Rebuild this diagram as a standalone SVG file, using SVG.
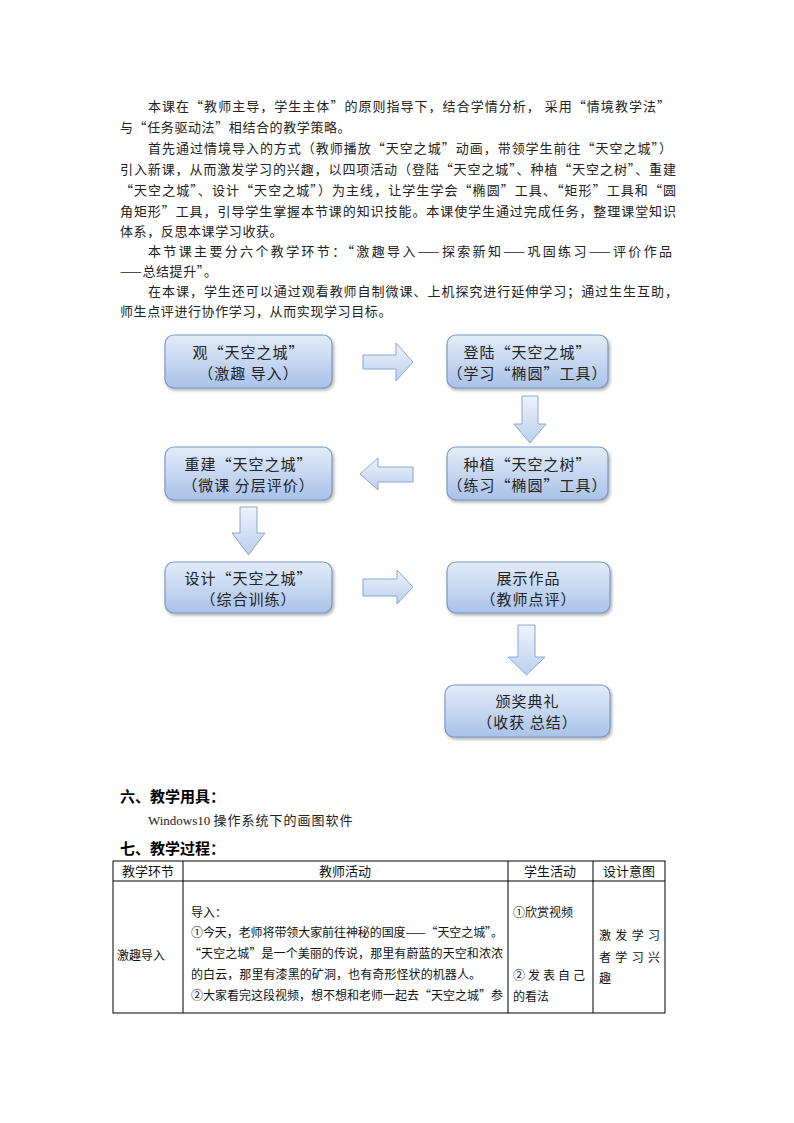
<svg xmlns="http://www.w3.org/2000/svg" width="794" height="1123" viewBox="0 0 794 1123">
<defs>
<linearGradient id="boxg" x1="0" y1="0" x2="0" y2="1">
<stop offset="0" stop-color="#e3ecf8"/>
<stop offset="1" stop-color="#a9c2e9"/>
</linearGradient>
<linearGradient id="arrg" x1="0" y1="0" x2="0" y2="1">
<stop offset="0" stop-color="#eef3fb"/>
<stop offset="1" stop-color="#bccfee"/>
</linearGradient>
<filter id="sh" x="-10%" y="-10%" width="130%" height="140%">
<feDropShadow dx="1.5" dy="2" stdDeviation="1.5" flood-color="#555" flood-opacity="0.45"/>
</filter>
<style>
.p{font-family:"Noto Sans CJK SC","Noto Sans",sans-serif;font-size:13px;fill:#222;}
.box{fill:url(#boxg);stroke:#7d98c4;stroke-width:1.2;filter:url(#sh);}
.bt{font-family:"Noto Sans CJK SC",sans-serif;font-size:15px;fill:#222;text-anchor:middle;letter-spacing:1px;}
.arr{fill:url(#arrg);stroke:#8ba6cf;stroke-width:1;}
.h{font-family:"Noto Sans CJK SC",sans-serif;font-size:15px;font-weight:bold;fill:#000;}
.t{font-family:"Noto Sans CJK SC",sans-serif;font-size:12px;fill:#111;}
.th{font-family:"Noto Sans CJK SC",sans-serif;font-size:13px;fill:#111;text-anchor:middle;}
.grid{stroke:#000;stroke-width:1;fill:none;}
</style>
</defs>
<rect width="794" height="1123" fill="#fff"/>

<g id="paragraphs">
<text class="p" x="148" y="111" textLength="522" lengthAdjust="spacing">本课在“教师主导，学生主体”的原则指导下，结合学情分析， 采用“情境教学法”</text>
<text class="p" x="120" y="132" letter-spacing="0.6">与“任务驱动法”相结合的教学策略。</text>
<text class="p" x="148" y="153" textLength="524" lengthAdjust="spacing">首先通过情境导入的方式（教师播放“天空之城”动画，带领学生前往“天空之城”）</text>
<text class="p" x="120" y="174" textLength="556" lengthAdjust="spacing">引入新课，从而激发学习的兴趣，以四项活动（登陆“天空之城”、种植“天空之树”、重建</text>
<text class="p" x="120" y="195" textLength="556" lengthAdjust="spacing">“天空之城”、设计“天空之城”）为主线，让学生学会“椭圆”工具、“矩形”工具和“圆</text>
<text class="p" x="120" y="216" textLength="556" lengthAdjust="spacing">角矩形”工具，引导学生掌握本节课的知识技能。本课使学生通过完成任务，整理课堂知识</text>
<text class="p" x="120" y="236" letter-spacing="0.6">体系，反思本课学习收获。</text>
<text class="p" x="148" y="256" textLength="524" lengthAdjust="spacing">本节课主要分六个教学环节：“激趣导入——探索新知——巩固练习——评价作品</text>
<text class="p" x="120" y="276" letter-spacing="0.6">——总结提升”。</text>
<text class="p" x="148" y="296" textLength="530" lengthAdjust="spacing">在本课，学生还可以通过观看教师自制微课、上机探究进行延伸学习；通过生生互助，</text>
<text class="p" x="120" y="316" letter-spacing="0.6">师生点评进行协作学习，从而实现学习目标。</text>
</g>

<g id="connectors">
<path class="arr" d="M363,355 H396 V343 L413,362 L396,381 V369 H363 Z"/>
<path class="arr" d="M522,396 H538 V424 H546 L530,443 L514,424 H522 Z"/>
<path class="arr" d="M413,467 H378 V458 L360,474 L378,490 V482 H413 Z"/>
<path class="arr" d="M240,507 H257 V533 H265 L248.5,555 L232,533 H240 Z"/>
<path class="arr" d="M363,579 H397 V570 L413,587 L397,604 V596 H363 Z"/>
<path class="arr" d="M518,625 H535 V657 H545 L526.5,675 L508,657 H518 Z"/>
</g>

<g id="node1">
<rect class="box" x="165" y="335" width="167" height="53" rx="9"/>
<text class="bt" x="248.5" y="358">观“天空之城”</text>
<text class="bt" x="248.5" y="379">（激趣 导入）</text>
</g>
<g id="node2">
<rect class="box" x="447" y="335" width="161" height="53" rx="9"/>
<text class="bt" x="527.5" y="358">登陆“天空之城”</text>
<text class="bt" x="527.5" y="379">（学习“椭圆”工具）</text>
</g>
<g id="node3">
<rect class="box" x="447" y="447" width="161" height="53" rx="9"/>
<text class="bt" x="527.5" y="470">种植“天空之树”</text>
<text class="bt" x="527.5" y="491">（练习“椭圆”工具）</text>
</g>
<g id="node4">
<rect class="box" x="165" y="447" width="167" height="53" rx="9"/>
<text class="bt" x="248.5" y="470">重建“天空之城”</text>
<text class="bt" x="248.5" y="491">（微课 分层评价）</text>
</g>
<g id="node5">
<rect class="box" x="165" y="562" width="167" height="51" rx="9"/>
<text class="bt" x="248.5" y="584">设计“天空之城”</text>
<text class="bt" x="248.5" y="605">（综合训练）</text>
</g>
<g id="node6">
<rect class="box" x="447" y="562" width="163" height="51" rx="9"/>
<text class="bt" x="528.5" y="584">展示作品</text>
<text class="bt" x="528.5" y="605">（教师点评）</text>
</g>
<g id="node7">
<rect class="box" x="445" y="685" width="165" height="52" rx="9"/>
<text class="bt" x="527.5" y="707">颁奖典礼</text>
<text class="bt" x="527.5" y="728">（收获 总结）</text>
</g>

<g id="sections">
<text class="h" x="120" y="802">六、教学用具：</text>
<text x="148" y="825" font-size="13" fill="#222"><tspan font-family="'Liberation Serif',serif">Windows10 </tspan><tspan font-family="'Noto Sans CJK SC',sans-serif" letter-spacing="1">操作系统下的画图软件</tspan></text>
<text class="h" x="120" y="854">七、教学过程：</text>
</g>

<g id="table">
<rect class="grid" x="113" y="861" width="552" height="152"/>
<line class="grid" x1="113" y1="881" x2="665" y2="881"/>
<line class="grid" x1="183" y1="861" x2="183" y2="1013"/>
<line class="grid" x1="508" y1="861" x2="508" y2="1013"/>
<line class="grid" x1="593" y1="861" x2="593" y2="1013"/>
<text class="th" x="148" y="876">教学环节</text>
<text class="th" x="345" y="876">教师活动</text>
<text class="th" x="550" y="876">学生活动</text>
<text class="th" x="629" y="876">设计意图</text>
<text class="t" x="117" y="960" font-size="13">激趣导入</text>
<text class="t" x="191" y="917">导入：</text>
<text class="t" x="191" y="937" textLength="312" lengthAdjust="spacing">①今天，老师将带领大家前往神秘的国度——“天空之城”。</text>
<text class="t" x="189" y="958" textLength="314" lengthAdjust="spacing">“天空之城”是一个美丽的传说，那里有蔚蓝的天空和浓浓</text>
<text class="t" x="191" y="979" textLength="290" lengthAdjust="spacing">的白云，那里有漆黑的矿洞，也有奇形怪状的机器人。</text>
<text class="t" x="191" y="1000" textLength="312" lengthAdjust="spacing">②大家看完这段视频，想不想和老师一起去“天空之城”参</text>
<text class="t" x="513" y="917">①欣赏视频</text>
<text class="t" x="513" y="980" textLength="72" lengthAdjust="spacing">②发表自己</text>
<text class="t" x="513" y="1001">的看法</text>
<text class="t" x="599" y="940" font-size="13" textLength="61" lengthAdjust="spacing">激发学习</text>
<text class="t" x="599" y="962" font-size="13" textLength="61" lengthAdjust="spacing">者学习兴</text>
<text class="t" x="599" y="983" font-size="13">趣</text>
</g>
</svg>
